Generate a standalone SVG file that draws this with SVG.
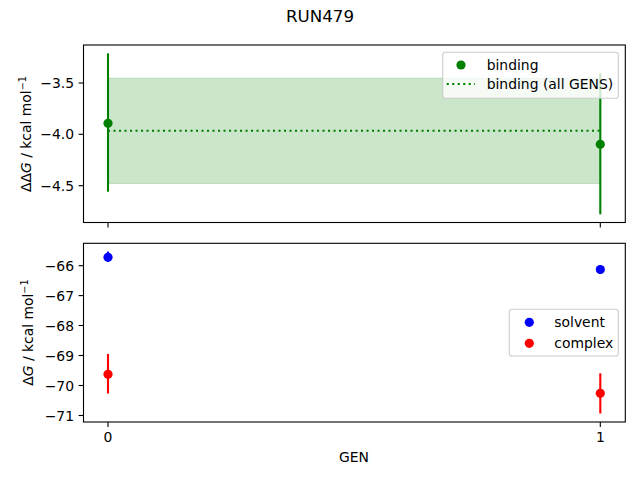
<svg xmlns="http://www.w3.org/2000/svg" width="640" height="480" viewBox="0 0 640 480">
<style>
text{font-family:"DejaVu Sans",sans-serif;font-size:13.9px;fill:#000}
.title{font-size:16.7px}
.spine{fill:none;stroke:#000;stroke-width:1.1}
.tick{stroke:#000;stroke-width:1.1}
.eb{stroke-width:2.1;fill:none}
.lg{fill:#fff;fill-opacity:0.8;stroke:#ccc;stroke-width:1.1}
</style>
<rect width="640" height="480" fill="#fff"/>
<text class="title" x="320" y="22" text-anchor="middle">RUN479</text>

<g id="top-axes">
  <rect x="108" y="78.3" width="492.3" height="105" fill="#cce6cc" stroke="#b2d9b2" stroke-width="1"/>
  <line x1="108" y1="130.7" x2="600.3" y2="130.7" stroke="#008000" stroke-width="2.1" stroke-dasharray="2.1,3.4"/>
  <line class="eb" stroke="#008000" x1="108" y1="53.3" x2="108" y2="191.7"/>
  <circle cx="108" cy="123.3" r="4.6" fill="#008000"/>
  <line class="eb" stroke="#008000" x1="600.3" y1="73.3" x2="600.3" y2="214.3"/>
  <circle cx="600.3" cy="144.3" r="4.6" fill="#008000"/>
  <rect class="spine" x="83.5" y="45" width="541.8" height="177.5"/>
  <g class="tick">
    <line x1="78.6" y1="83" x2="83.5" y2="83"/>
    <line x1="78.6" y1="134.3" x2="83.5" y2="134.3"/>
    <line x1="78.6" y1="185.7" x2="83.5" y2="185.7"/>
    <line x1="108" y1="222.5" x2="108" y2="227.4"/>
    <line x1="600.3" y1="222.5" x2="600.3" y2="227.4"/>
  </g>
  <text x="74" y="88" text-anchor="end">−3.5</text>
  <text x="74" y="139.3" text-anchor="end">−4.0</text>
  <text x="74" y="190.7" text-anchor="end">−4.5</text>
  <text transform="translate(31,134) rotate(-90)" text-anchor="middle">ΔΔ<tspan font-style="italic">G</tspan> / kcal mol<tspan font-size="9.7px" dy="-5">−1</tspan></text>
  <g id="legend-top">
    <rect class="lg" x="442.7" y="52.3" width="175.6" height="46" rx="2.8"/>
    <circle cx="461" cy="65" r="4.6" fill="#008000"/>
    <text x="486.7" y="69.7">binding</text>
    <line x1="446.7" y1="84" x2="475" y2="84" stroke="#008000" stroke-width="2.1" stroke-dasharray="2.1,3.4"/>
    <text x="486.7" y="89.3">binding (all GENS)</text>
  </g>
</g>

<g id="bottom-axes">
  <line class="eb" stroke="#0000ff" x1="108" y1="251.5" x2="108" y2="262"/>
  <circle cx="108" cy="257.3" r="4.6" fill="#0000ff"/>
  <line class="eb" stroke="#0000ff" x1="600.3" y1="265" x2="600.3" y2="274"/>
  <circle cx="600.3" cy="269.5" r="4.6" fill="#0000ff"/>
  <line class="eb" stroke="#ff0000" x1="108" y1="354" x2="108" y2="393.5"/>
  <circle cx="108" cy="374.3" r="4.6" fill="#ff0000"/>
  <line class="eb" stroke="#ff0000" x1="600.3" y1="373.3" x2="600.3" y2="413.5"/>
  <circle cx="600.3" cy="393.3" r="4.6" fill="#ff0000"/>
  <rect class="spine" x="83.5" y="243.3" width="541.8" height="178.7"/>
  <g class="tick">
    <line x1="78.6" y1="265.7" x2="83.5" y2="265.7"/>
    <line x1="78.6" y1="295.6" x2="83.5" y2="295.6"/>
    <line x1="78.6" y1="325.5" x2="83.5" y2="325.5"/>
    <line x1="78.6" y1="355.5" x2="83.5" y2="355.5"/>
    <line x1="78.6" y1="385.5" x2="83.5" y2="385.5"/>
    <line x1="78.6" y1="415.5" x2="83.5" y2="415.5"/>
    <line x1="108" y1="422" x2="108" y2="426.9"/>
    <line x1="600.3" y1="422" x2="600.3" y2="426.9"/>
  </g>
  <text x="74" y="270.7" text-anchor="end">−66</text>
  <text x="74" y="300.6" text-anchor="end">−67</text>
  <text x="74" y="330.5" text-anchor="end">−68</text>
  <text x="74" y="360.5" text-anchor="end">−69</text>
  <text x="74" y="390.5" text-anchor="end">−70</text>
  <text x="74" y="420.5" text-anchor="end">−71</text>
  <text x="108" y="441.5" text-anchor="middle">0</text>
  <text x="600.3" y="441.5" text-anchor="middle">1</text>
  <text x="354" y="462" text-anchor="middle">GEN</text>
  <text transform="translate(33,332.6) rotate(-90)" text-anchor="middle">Δ<tspan font-style="italic">G</tspan> / kcal mol<tspan font-size="9.7px" dy="-5">−1</tspan></text>
  <g id="legend-bottom">
    <rect class="lg" x="509.3" y="309.3" width="109" height="46.7" rx="2.8"/>
    <circle cx="529.3" cy="322.3" r="4.6" fill="#0000ff"/>
    <text x="554.3" y="327">solvent</text>
    <circle cx="529.3" cy="343.3" r="4.6" fill="#ff0000"/>
    <text x="554.3" y="348">complex</text>
  </g>
</g>
</svg>
